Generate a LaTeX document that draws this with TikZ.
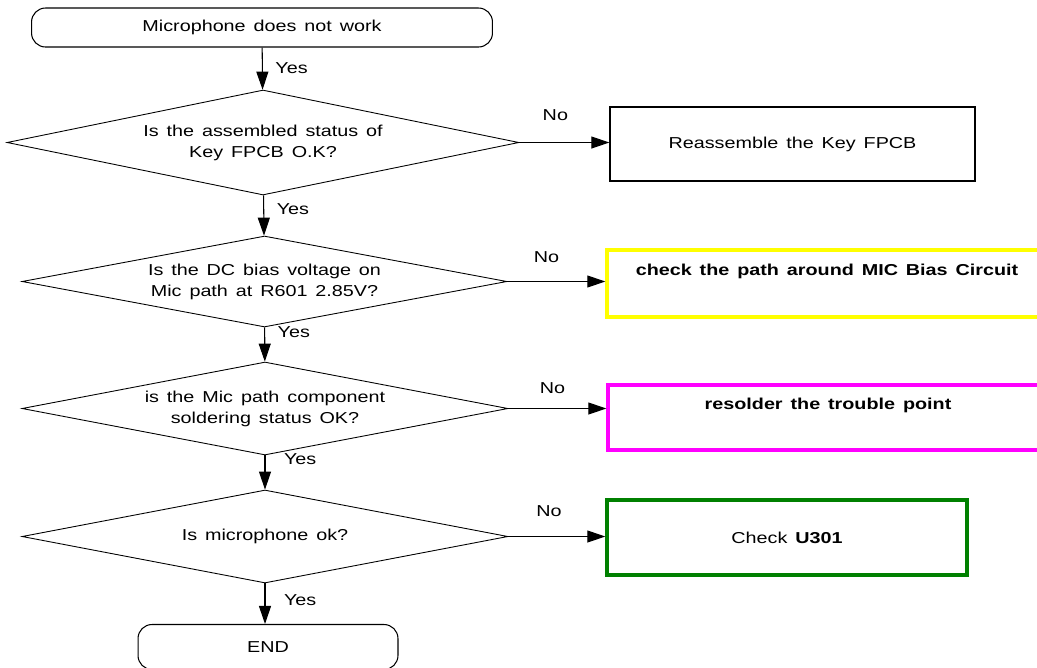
\documentclass[tikz,border=0pt]{standalone}
\usepackage{fontspec}
\setmainfont{Liberation Sans}[FakeStretch=1.25]
\usetikzlibrary{arrows.meta,shapes.geometric,positioning}
\definecolor{okgreen}{RGB}{0,128,0}
\definecolor{warnyellow}{RGB}{255,255,0}
\definecolor{warnpink}{RGB}{255,0,255}
\newcommand{\widespace}{\spaceskip=0.5em plus 0.1em\relax}

\begin{document}
\begin{tikzpicture}[
    x=0.02cm, y=-0.02cm,
    font=\fontsize{9}{12}\selectfont\widespace,
    endbox/.style={draw, rounded corners=0.28cm, minimum height=0.78cm, align=center, line width=0.6pt},
    query/.style={draw, diamond, aspect=5, inner sep=0pt, align=center, line width=0.5pt},
    fixbox/.style={draw, minimum height=1.48cm, align=center, line width=0.8pt},
    hot/.style={fixbox, line width=2pt, text depth=0.55cm, font=\fontsize{9}{12}\selectfont\bfseries\widespace},
    lbl/.style={inner sep=2pt},
    arr/.style={-{Triangle[length=0.36cm, width=0.24cm]}, line width=0.6pt}
]
\useasboundingbox (0,0) rectangle (1037,667);

\node[endbox, minimum width=9.22cm] (start) at (262,27.5) {Microphone does not work};
\node[query, minimum width=10.24cm, minimum height=2.1cm] (q1) at (263,142.5) {Is the assembled status of\\Key FPCB O.K?};
\node[fixbox, minimum width=7.3cm] (fix1) at (792.5,144) {Reassemble the Key FPCB};
\node[query, minimum width=9.7cm, minimum height=1.82cm] (q2) at (264.5,281.5) {Is the DC bias voltage on\\Mic path at R601 2.85V?};
\node[hot, draw=warnyellow, minimum width=8.8cm, minimum height=1.34cm] (fix2) at (827,283.5) {check the path around MIC Bias Circuit};
\node[query, minimum width=9.72cm, minimum height=1.86cm] (q3) at (265,408.5) {is the Mic path component\\soldering status OK?};
\node[hot, draw=warnpink, minimum width=8.8cm, minimum height=1.3cm] (fix3) at (828,417.5) {resolder the trouble point};
\node[query, minimum width=9.72cm, minimum height=1.86cm] (q4) at (265,536.5) {Is microphone ok?};
\node[fixbox, draw=okgreen, line width=2pt, minimum width=7.2cm, minimum height=1.5cm] (fix4) at (787,537.5) {Check \textbf{U301}};
\node[endbox, minimum width=5.2cm, minimum height=0.9cm] (fin) at (268,647) {END};

% yes branch
\draw[arr] (start) -- node[lbl, right=0.18cm] (y1) {Yes} (q1);
\draw[arr] (q1) -- node[lbl, right=0.18cm, pos=0.35] (y2) {Yes} (q2);
\draw[arr] (q2) -- node[lbl, right=0.18cm, pos=0.15] (y3) {Yes} (q3);
\draw[arr] (q3) -- node[lbl, right=0.3cm, pos=0.1] (y4) {Yes} (q4);
\draw[arr] (q4.south) -- node[lbl, right=0.3cm, pos=0.4] (y5) {Yes} (q4.south |- fin.north);

% no branch
\draw[arr] (q1.east) -- node[lbl, above=0.35cm, pos=0.4] (n1) {No} (q1.east -| fix1.west);
\draw[arr] (q2.east) -- node[lbl, above=0.3cm, pos=0.4] (n2) {No} (q2.east -| fix2.west);
\draw[arr] (q3.east) -- node[lbl, above=0.22cm, pos=0.45] (n3) {No} (q3.east -| fix3.west);
\draw[arr] (q4.east) -- node[lbl, above=0.32cm, pos=0.42] (n4) {No} (q4.east -| fix4.west);
\end{tikzpicture}
\end{document}
